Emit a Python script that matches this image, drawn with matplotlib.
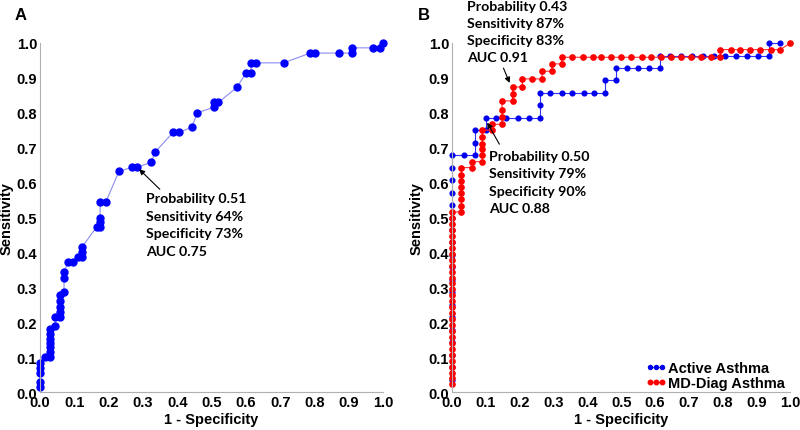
import numpy as np
import matplotlib
matplotlib.use("Agg")
import matplotlib.pyplot as plt

# Panel A: single ROC curve (1 - specificity, sensitivity)
a_fpr = [0, 0, 0, 0, 0, 0.015, 0.029, 0.029, 0.029, 0.029, 0.029, 0.029, 0.029,
         0.044, 0.044, 0.058, 0.058, 0.058, 0.058, 0.058, 0.07, 0.07, 0.07,
         0.083, 0.097, 0.112, 0.123, 0.123, 0.123, 0.165, 0.175, 0.175, 0.175,
         0.175, 0.192, 0.23, 0.268, 0.283, 0.324, 0.335, 0.388, 0.405, 0.443,
         0.458, 0.507, 0.507, 0.52, 0.574, 0.60, 0.615, 0.615, 0.63, 0.71,
         0.787, 0.80, 0.87, 0.91, 0.91, 0.97, 0.99, 1.0]
a_tpr = [0.014, 0.028, 0.056, 0.069, 0.083, 0.10, 0.10, 0.115, 0.128, 0.14, 0.153, 0.167, 0.18,
         0.19, 0.215, 0.215, 0.23, 0.245, 0.26, 0.277, 0.286, 0.328, 0.344,
         0.374, 0.374, 0.387, 0.387, 0.40, 0.416, 0.473, 0.473, 0.488, 0.50,
         0.545, 0.545, 0.632, 0.644, 0.644, 0.658, 0.687, 0.744, 0.744, 0.759,
         0.80, 0.816, 0.83, 0.83, 0.873, 0.914, 0.914, 0.943, 0.943, 0.943,
         0.971, 0.971, 0.971, 0.971, 0.986, 0.986, 0.986, 1.0]

# Panel B: Active Asthma
act_fpr = [0] * 19 + [0.034, 0.068, 0.068, 0.068, 0.101, 0.101, 0.13, 0.161, 0.195,
           0.227, 0.259, 0.259, 0.259, 0.29, 0.324, 0.355, 0.39, 0.42, 0.453,
           0.453, 0.485, 0.485, 0.517, 0.55, 0.582, 0.614, 0.614, 0.645, 0.677,
           0.71, 0.742, 0.774, 0.807, 0.839, 0.871, 0.903, 0.936, 0.936, 0.968]
act_tpr = [0.036, 0.071, 0.107, 0.143, 0.179, 0.214, 0.25, 0.286, 0.321, 0.357,
           0.393, 0.429, 0.464, 0.5, 0.536, 0.571, 0.607, 0.643, 0.679,
           0.679, 0.679, 0.714, 0.75, 0.75, 0.786, 0.786, 0.786, 0.786,
           0.786, 0.786, 0.821, 0.857, 0.857, 0.857, 0.857, 0.857, 0.857, 0.857,
           0.893, 0.893, 0.929, 0.929, 0.929, 0.929, 0.929, 0.964, 0.964, 0.964,
           0.964, 0.964, 0.964, 0.964, 0.964, 0.964, 0.964, 0.964, 1.0, 1.0]

# Panel B: MD-Diag Asthma
md_fpr = [0] * 30 + [0.028] * 8 + [0.058, 0.058] + [0.09] * 6 + [0.118, 0.118] + \
         [0.148, 0.148, 0.148, 0.148, 0.179, 0.179, 0.179, 0.208, 0.208, 0.235,
          0.266, 0.266, 0.295, 0.295, 0.324, 0.324, 0.355, 0.388, 0.417, 0.441,
          0.47, 0.50, 0.529, 0.56, 0.589, 0.618, 0.648, 0.677, 0.706, 0.735,
          0.764, 0.793, 0.793, 0.823, 0.852, 0.881, 0.91, 0.942, 0.97, 1.0]
md_tpr = [0.022, 0.039, 0.056, 0.073, 0.09, 0.107, 0.124, 0.141, 0.158, 0.175,
          0.192, 0.209, 0.226, 0.243, 0.26, 0.277, 0.294, 0.311, 0.328, 0.345,
          0.362, 0.379, 0.396, 0.413, 0.43, 0.447, 0.464, 0.481, 0.498, 0.516,
          0.516, 0.534, 0.552, 0.569, 0.588, 0.605, 0.622, 0.643,
          0.643, 0.66,
          0.66, 0.678, 0.695, 0.712, 0.73, 0.75,
          0.75, 0.767,
          0.767, 0.787, 0.807, 0.834, 0.834, 0.853, 0.874, 0.874, 0.897, 0.897,
          0.897, 0.919, 0.919, 0.94, 0.94, 0.959, 0.959, 0.959, 0.959, 0.959,
          0.959, 0.959, 0.959, 0.959, 0.959, 0.959, 0.959, 0.959, 0.959, 0.959,
          0.959, 0.959, 0.981, 0.981, 0.981, 0.981, 0.981, 0.981, 0.981, 1.0]

ticks = np.round(np.arange(0, 1.01, 0.1), 1)
tick_labels = ["%.1f" % t for t in ticks]

txt_font = ["Lato", "DejaVu Sans"]
ax_font = ["Liberation Sans", "DejaVu Sans"]

fig = plt.figure(figsize=(8, 4.31), dpi=100)


def style_axes(ax, ylab_x):
    ax.set_xlim(0, 1.0)
    ax.set_ylim(0, 1.0)
    for s in ["top", "right"]:
        ax.spines[s].set_visible(False)
    for s in ["left", "bottom"]:
        ax.spines[s].set_color("#b0b0b0")
        ax.spines[s].set_linewidth(0.8)
    ax.set_xticks(ticks)
    ax.set_yticks(ticks)
    ax.set_xticklabels(tick_labels, family=ax_font, weight="bold", fontsize=10.5)
    ax.set_yticklabels(tick_labels, family=ax_font, weight="bold", fontsize=10.5)
    ax.tick_params(length=0, pad=2)
    ax.set_xlabel("1 - Specificity", family=ax_font, weight="bold", fontsize=10.5, labelpad=2)
    ax.set_ylabel("Sensitivity", family=ax_font, weight="bold", fontsize=10.5)
    ax.yaxis.set_label_coords(ylab_x, 0.5)


# ---- panel A ----
ax1 = fig.add_axes([0.05, 0.088, 0.429, 0.81])
ax1.plot(a_fpr, a_tpr, color="#8c8cf0", lw=0.8, marker="o", ms=5,
         mfc="#0000ff", mec="#0000ff", clip_on=False)
style_axes(ax1, -0.077)
ax1.annotate("Probability 0.51\nSensitivity 64%\nSpecificity 73%\nAUC 0.75",
             xy=(0.283, 0.644), xytext=(0.308, 0.573), textcoords="data",
             va="top", ha="left", family=txt_font, weight="bold", fontsize=10.2,
             linespacing=1.55,
             arrowprops=dict(arrowstyle="-|>", color="black", lw=0.8,
                             mutation_scale=8, shrinkA=0, shrinkB=2))
fig.text(0.018, 0.965, "A", family=ax_font, weight="bold", fontsize=12, va="center")

# ---- panel B ----
ax2 = fig.add_axes([0.565, 0.088, 0.423, 0.81])
ax2.plot(act_fpr, act_tpr, color="#3030ff", lw=0.8, marker="o", ms=3.4,
         mfc="#0000ee", mec="#0000ee", clip_on=False, label="Active Asthma")
ax2.plot(md_fpr, md_tpr, color="#ff3030", lw=0.8, marker="o", ms=3.8,
         mfc="#ff0000", mec="#ff0000", clip_on=False, label="MD-Diag Asthma")
style_axes(ax2, -0.083)
ax2.annotate("Probability 0.43\nSensitivity 87%\nSpecificity 83%\nAUC 0.91",
             xy=(0.172, 0.882), xytext=(0.045, 1.122), textcoords="data",
             va="top", ha="left", family=txt_font, weight="bold", fontsize=10.2,
             linespacing=1.5, annotation_clip=False)
ax2.annotate("", xy=(0.172, 0.882), xytext=(0.152, 0.928),
             arrowprops=dict(arrowstyle="-|>", color="black", lw=0.8,
                             mutation_scale=8, shrinkA=0, shrinkB=1))
ax2.annotate("Probability 0.50\nSensitivity 79%\nSpecificity 90%\nAUC 0.88",
             xy=(0.104, 0.77), xytext=(0.109, 0.694), textcoords="data",
             va="top", ha="left", family=txt_font, weight="bold", fontsize=10.2,
             linespacing=1.55)
ax2.annotate("", xy=(0.104, 0.772), xytext=(0.14, 0.71),
             arrowprops=dict(arrowstyle="-|>", color="black", lw=0.8,
                             mutation_scale=8, shrinkA=0, shrinkB=0))
leg = ax2.legend(loc="lower right", bbox_to_anchor=(1.0, -0.012), frameon=False,
                 numpoints=3, handlelength=1.4, handletextpad=0.1,
                 labelspacing=0.12, borderaxespad=0.0, markerscale=0.85,
                 prop=dict(family=ax_font, weight="bold", size=10.5))
fig.text(0.522, 0.965, "B", family=ax_font, weight="bold", fontsize=12, va="center")

fig.savefig("out.png", dpi=100)
